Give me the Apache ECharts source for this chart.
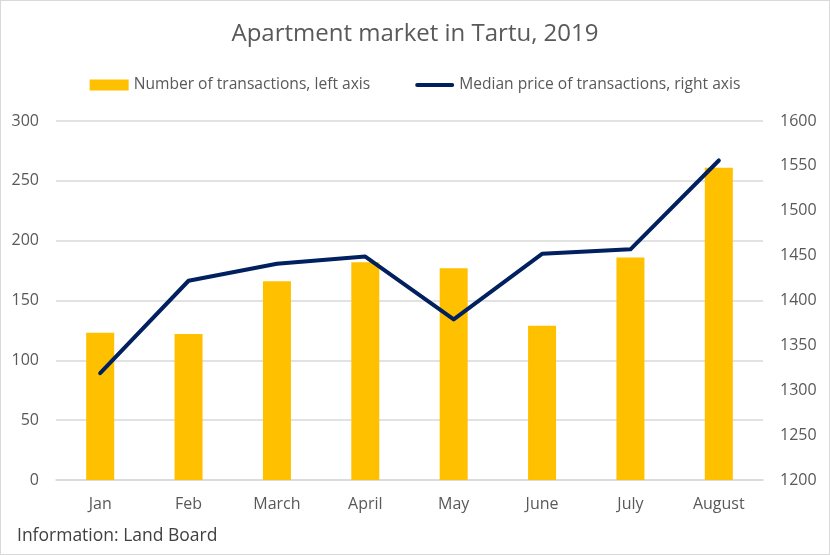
<!DOCTYPE html>
<html><head><meta charset="utf-8">
<script src="https://cdn.jsdelivr.net/npm/echarts@6/dist/echarts.min.js"></script>
<style>
html,body{margin:0;padding:0;background:#fff;}
#c{width:828px;height:553px;border:1px solid #d9d9d9;}
</style></head><body>
<div id="c"></div>
<script>
const categories = ['Jan','Feb','March','April','May','June','July','August'];
const transactions = [123, 122, 166, 182, 177, 129, 186, 261];
const medianPrice = [1319, 1422, 1441, 1449, 1379, 1452, 1457, 1556];
const leftTicks = {min:0, max:300, interval:50};
const rightTicks = {min:1200, max:1600, interval:50};

const chart = echarts.init(document.getElementById('c'));
const txt = '#595959';
const ff = '"Open Sans", sans-serif';
chart.setOption({
  animation:false,
  title:{text:'Apartment market in Tartu, 2019', left:'center', top:16,
    textStyle:{fontFamily:ff, fontSize:24, fontWeight:'normal', color:txt}},
  legend:{top:71, left:'center', itemGap:45, itemWidth:39, itemHeight:11,
    textStyle:{fontFamily:ff, fontSize:15.6, color:txt},
    data:[{name:'Number of transactions, left axis', icon:'rect'},
          {name:'Median price of transactions, right axis', icon:'path://M0,0 M40,11 M2,3.5 H38 A2,2 0 0 1 38,7.5 H2 A2,2 0 0 1 2,3.5 Z'}]},
  grid:{left:55, right:66, top:120, bottom:74},
  graphic:[{type:'text', left:16, top:526, style:{text:'Information: Land Board', fontFamily:ff, fontSize:17.5, fill:'#404040'}}],
  xAxis:{type:'category', data:categories,
    axisLine:{lineStyle:{color:'#d9d9d9', width:1.5}}, axisTick:{show:false},
    axisLabel:{color:txt, fontFamily:ff, fontSize:16, margin:16}},
  yAxis:[
    {type:'value', min:leftTicks.min, max:leftTicks.max, interval:leftTicks.interval, position:'left',
     axisLine:{show:false}, axisTick:{show:false},
     splitLine:{lineStyle:{color:'#d9d9d9', width:1.5}},
     axisLabel:{color:txt, fontFamily:ff, fontSize:16, margin:17}},
    {type:'value', min:rightTicks.min, max:rightTicks.max, interval:rightTicks.interval, position:'right',
     axisLine:{show:false}, axisTick:{show:false}, splitLine:{show:false},
     axisLabel:{color:txt, fontFamily:ff, fontSize:16, margin:17, formatter:function(v){return String(v);}}}
  ],
  series:[
    {name:'Number of transactions, left axis', type:'bar', yAxisIndex:0, data:transactions,
     barWidth:28, itemStyle:{color:'#FFC000'}},
    {name:'Median price of transactions, right axis', type:'line', yAxisIndex:1, data:medianPrice,
     symbol:'none', lineStyle:{color:'#002060', width:4, cap:'round', join:'round'}, itemStyle:{color:'#002060'}}
  ]
});
</script></body></html>
